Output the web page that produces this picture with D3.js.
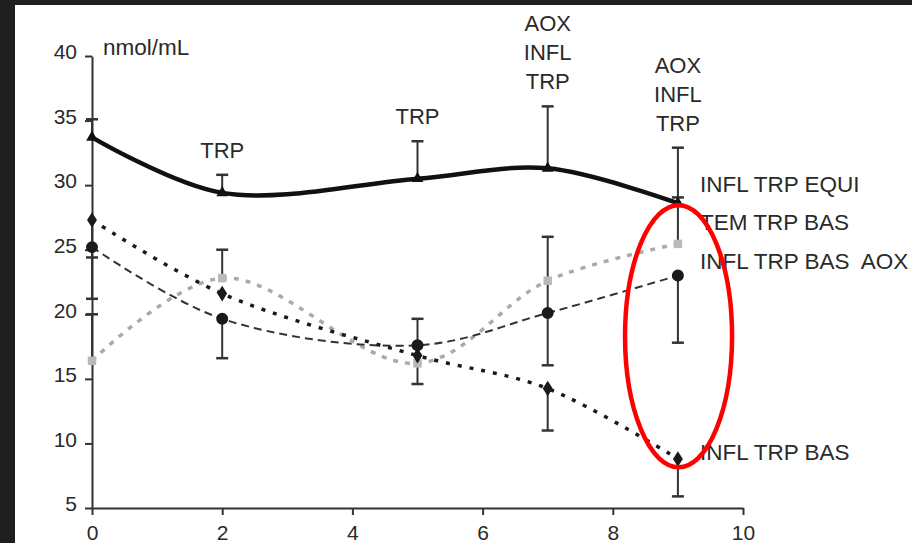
<!DOCTYPE html>
<html>
<head>
<meta charset="utf-8">
<script src="https://cdn.jsdelivr.net/npm/d3@7"></script>
<style>
  html, body { margin: 0; padding: 0; background: #fff; }
  svg { display: block; font-family: "Liberation Sans", Arial, Helvetica, sans-serif; }
  text { white-space: pre; }
</style>
</head>
<body>
<svg id="chart" width="912" height="543"></svg>
<script>
// ---- data ----
const xs = [0, 2, 5, 7, 9];
const xTicks = [0, 2, 4, 6, 8, 10];
const yTicks = [5, 10, 15, 20, 25, 30, 35, 40];
const yUnit = "nmol/mL";

const equi     = [33.7, 29.4, 30.5, 31.3, 28.6];   // INFL TRP EQUI (solid, triangles)
const equiHi   = [35.1, 30.8, 33.4, 36.1, 32.9];
const bas      = [27.3, 21.6, 16.8, 14.25, 8.8];   // INFL TRP BAS (dotted, diamonds)
const basLo    = [24.4, null, null, 11.0, 5.9];
const basAox   = [25.2, 19.65, 17.6, 20.1, 23.0];  // INFL TRP BAS AOX (dashed, circles)
const basAoxHi = [null, null, 19.65, 26.0, null];
const basAoxLo = [21.2, 16.6, null, 16.05, 17.8];
const tem      = [16.4, 22.8, 16.2, 22.6, 25.45];  // TEM TRP BAS (grey dotted, squares)
const temHi    = [20.0, 25.0, null, null, 29.05];
const temLo    = [null, null, 14.6, null, null];

const topNoteX = [2, 5, 7, 9];
const topNoteLines = [["TRP"], ["TRP"], ["AOX", "INFL", "TRP"], ["AOX", "INFL", "TRP"]];

const seriesNames = ["INFL TRP EQUI", "TEM TRP BAS", "INFL TRP BAS  AOX", "INFL TRP BAS"];
const seriesNameY = [29.47, 26.53, 23.51, 8.72];

// ---- layout ----
const svg = d3.select("#chart");
const W = 912, H = 543;
const x = d3.scaleLinear().domain([0, 10]).range([92, 743]);
const y = d3.scaleLinear().domain([5, 40]).range([508, 56]);

svg.append("rect").attr("width", W).attr("height", H).attr("fill", "#fff");

// axes
const axisColor = "#333";
const gx = svg.append("g").attr("transform", `translate(0,${y(5)})`)
  .call(d3.axisBottom(x).tickValues(xTicks).tickSize(7).tickSizeOuter(0).tickPadding(10.5).tickFormat(d3.format("d")));
const gy = svg.append("g").attr("transform", `translate(${x(0)},0)`)
  .call(d3.axisLeft(y).tickValues(yTicks).tickSize(7).tickSizeOuter(0).tickPadding(8).tickFormat(d3.format("d")));
[gx, gy].forEach(g => {
  g.select(".domain").attr("stroke", axisColor).attr("stroke-width", 2);
  g.selectAll(".tick line").attr("stroke", axisColor).attr("stroke-width", 2);
  g.selectAll(".tick text").attr("fill", "#2a2a2a").attr("font-size", 21)
    .attr("font-family", "Liberation Sans, Arial, sans-serif");
});
gx.selectAll(".tick text").attr("dy", "0.71em");
gy.selectAll(".tick text").attr("dy", "0.32em").attr("y", -4);

svg.append("text").attr("x", x(0) + 11).attr("y", y(40) - 1)
  .attr("font-size", 22.5).attr("fill", "#2a2a2a").text(yUnit);

// error bars
const capW = 6;
function errBars(vals, ends) {
  const g = svg.append("g").attr("stroke", "#333").attr("stroke-width", 2).attr("fill", "none");
  xs.forEach((xv, i) => {
    const e = ends[i];
    if (e == null) return;
    g.append("line").attr("x1", x(xv)).attr("x2", x(xv)).attr("y1", y(vals[i])).attr("y2", y(e));
    g.append("line").attr("x1", x(xv) - capW).attr("x2", x(xv) + capW).attr("y1", y(e)).attr("y2", y(e))
      .attr("stroke-width", 2.5);
  });
}
errBars(equi, equiHi);
errBars(bas, basLo);
errBars(basAox, basAoxHi);
errBars(basAox, basAoxLo);
errBars(tem, temHi);
errBars(tem, temLo);

// lines
const line = d3.line().x((d, i) => x(xs[i])).y(d => y(d)).curve(d3.curveCatmullRom.alpha(0.5));
function drawLine(vals, color, width, dash) {
  svg.append("path").datum(vals).attr("d", line).attr("fill", "none")
    .attr("stroke", color).attr("stroke-width", width)
    .attr("stroke-dasharray", dash).attr("stroke-linecap", "butt");
}
drawLine(tem, "#aaaaaa", 3.5, "5,7");
drawLine(basAox, "#333", 2, "8,5");
drawLine(bas, "#1a1a1a", 3.5, "4,8");
drawLine(equi, "#111", 4.5, null);

// markers
const sym = (type, size) => d3.symbol().type(type).size(size)();
function drawMarkers(vals, path, color, rot) {
  svg.append("g").selectAll("path").data(vals).join("path")
    .attr("d", path)
    .attr("transform", (d, i) => `translate(${x(xs[i])},${y(d)})${rot ? " " + rot : ""}`)
    .attr("fill", color);
}
drawMarkers(tem, sym(d3.symbolSquare, 72), "#b9b9b9");
drawMarkers(basAox, sym(d3.symbolCircle, 113), "#1a1a1a");
drawMarkers(bas, sym(d3.symbolDiamond, 70), "#1a1a1a", "scale(1.1,1)");
drawMarkers(equi, sym(d3.symbolTriangle, 60), "#111");

// top annotations
const noteSize = 22, lineH = 29;
topNoteX.forEach((xv, k) => {
  const i = xs.indexOf(xv);
  const lines = topNoteLines[k];
  const baseY = y(equiHi[i]) - 17;
  lines.forEach((t, j) => {
    svg.append("text").attr("x", x(xv)).attr("y", baseY - (lines.length - 1 - j) * lineH)
      .attr("text-anchor", "middle").attr("font-size", noteSize)
      .attr("fill", "#2a2a2a").text(t);
  });
});

// series names on the right
seriesNames.forEach((t, k) => {
  svg.append("text").attr("x", x(9) + 22).attr("y", y(seriesNameY[k]))
    .attr("font-size", 22.5).attr("fill", "#2a2a2a").attr("xml:space", "preserve").text(t);
});

// red highlight ellipse
svg.append("ellipse").attr("cx", x(9.01)).attr("cy", y(18.3)).attr("rx", 53.5).attr("ry", 131)
  .attr("fill", "none").attr("stroke", "#ff0000").attr("stroke-width", 4.5);

// dark frame (top and left)
svg.append("rect").attr("x", 0).attr("y", 0).attr("width", W).attr("height", 5).attr("fill", "#1f1f1f");
svg.append("rect").attr("x", 0).attr("y", 0).attr("width", 15).attr("height", H).attr("fill", "#1f1f1f");
</script>
</body>
</html>
